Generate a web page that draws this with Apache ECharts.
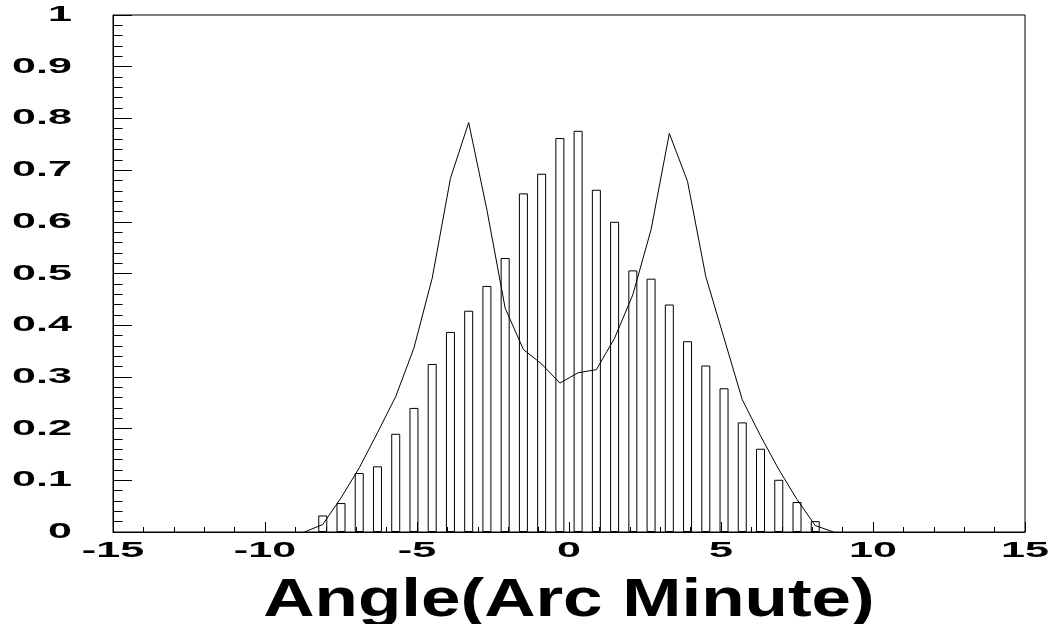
<!DOCTYPE html>
<html>
<head>
<meta charset="utf-8">
<script src="https://cdn.jsdelivr.net/npm/echarts@6/dist/echarts.min.js"></script>
<style>
html, body { margin: 0; padding: 0; background: #fff; }
#chart { width: 1057px; height: 624px; }
</style>
</head>
<body>
<div id="chart"></div>
<script>
// bin centres (arc minutes)
var binX = [-8.1, -7.5, -6.9, -6.3, -5.7, -5.1, -4.5, -3.9, -3.3, -2.7, -2.1, -1.5, -0.9, -0.3,
	0.3, 0.9, 1.5, 2.1, 2.7, 3.3, 3.9, 4.5, 5.1, 5.7, 6.3, 6.9, 7.5, 8.1];
// histogram heights
var barY = [0.032, 0.056, 0.114, 0.127, 0.190, 0.240, 0.325, 0.387, 0.428, 0.476, 0.530, 0.655, 0.693, 0.762,
	0.776, 0.662, 0.600, 0.506, 0.490, 0.440, 0.369, 0.322, 0.278, 0.212, 0.161, 0.101, 0.058, 0.021];
// curve points
var lineX = [-8.7, -8.1, -7.5, -6.9, -6.3, -5.7, -5.1, -4.5, -3.9, -3.3, -2.7, -2.1, -1.5, -0.9, -0.3,
	0.3, 0.9, 1.5, 2.1, 2.7, 3.3, 3.9, 4.5, 5.1, 5.7, 6.3, 6.9, 7.5, 8.1, 8.7];
var lineY = [0, 0.0145, 0.066, 0.124, 0.192, 0.262, 0.356, 0.491, 0.684, 0.792, 0.623, 0.433, 0.353, 0.325, 0.288,
	0.308, 0.314, 0.375, 0.459, 0.585, 0.771, 0.678, 0.494, 0.375, 0.256, 0.186, 0.121, 0.063, 0.0125, 0];
// tick labels
var xTicks = [-15, -10, -5, 0, 5, 10, 15];
var yTicks = [0, 0.1, 0.2, 0.3, 0.4, 0.5, 0.6, 0.7, 0.8, 0.9, 1];
var xTitle = 'Angle(Arc Minute)';

var bars = [], curve = [];
for (var i = 0; i < binX.length; i++) bars.push([binX[i], barY[i]]);
for (var j = 0; j < lineX.length; j++) curve.push([lineX[j], lineY[j]]);

var chart = echarts.init(document.getElementById('chart'));
var option = {
	animation: false,
	grid: { left: 113, right: 32, top: 15, bottom: 92, show: true, borderColor: '#000', borderWidth: 1, backgroundColor: 'transparent' },
	xAxis: {
		type: 'value', min: -15, max: 15, interval: 5,
		axisLine: { onZero: false, lineStyle: { color: '#000', width: 1 } },
		axisTick: { inside: true, length: 10, lineStyle: { color: '#000' } },
		minorTick: { show: true, splitNumber: 5, length: 5, lineStyle: { color: '#000' } },
		axisLabel: { show: false },
		splitLine: { show: false }
	},
	yAxis: {
		type: 'value', min: 0, max: 1, interval: 0.1,
		axisLine: { show: true, onZero: false, lineStyle: { color: '#000', width: 1 } },
		axisTick: { show: true, inside: true, length: 19, lineStyle: { color: '#000' } },
		minorTick: { show: true, splitNumber: 5, length: 9.5, lineStyle: { color: '#000' } },
		axisLabel: { show: false },
		splitLine: { show: false }
	},
	series: [{
		type: 'bar',
		data: bars,
		barWidth: 9,
		itemStyle: { color: 'rgba(0,0,0,0)', borderColor: '#000', borderWidth: 1 },
		z: 2
	}, {
		type: 'line',
		data: curve,
		showSymbol: false,
		lineStyle: { color: '#000', width: 1 },
		z: 3
	}]
};
chart.setOption(option);

// labels in the picture are stretched sideways, so draw them as scaled text
var font = 'bold 22px "Liberation Sans", Arial, sans-serif';
var labels = [];
yTicks.forEach(function (v) {
	var p = chart.convertToPixel({ gridIndex: 0 }, [-15, v]);
	labels.push({ type: 'text', x: 72, y: p[1], scaleX: 1.96,
		style: { text: String(v), x: 0, y: 0, font: font, fill: '#000', textAlign: 'right', textVerticalAlign: 'middle' } });
});
xTicks.forEach(function (v) {
	var p = chart.convertToPixel({ gridIndex: 0 }, [v, 0]);
	labels.push({ type: 'text', x: p[0], y: 551, scaleX: 1.96,
		style: { text: String(v), x: 0, y: 0, font: font, fill: '#000', textAlign: 'center', textVerticalAlign: 'middle' } });
});
labels.push({ type: 'text', x: 569, y: 601, scaleX: 1.34,
	style: { text: xTitle, x: 0, y: 0, font: 'bold 53px "Liberation Sans", Arial, sans-serif', fill: '#000', textAlign: 'center', textVerticalAlign: 'middle' } });
chart.setOption({ graphic: labels });
</script>
</body>
</html>
